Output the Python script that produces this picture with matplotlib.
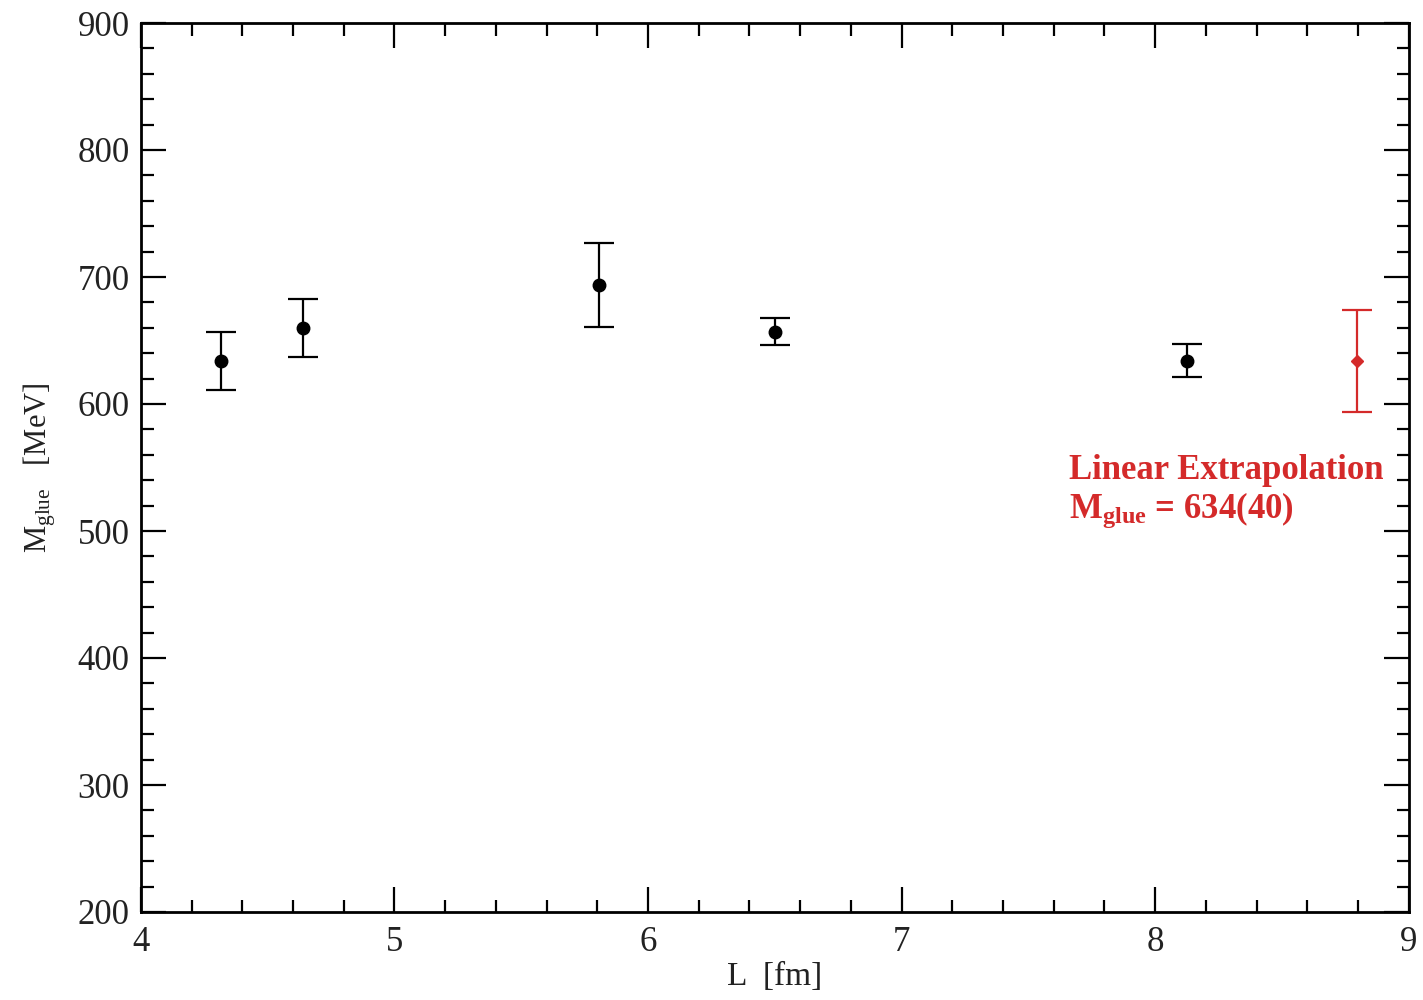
import numpy as np
import matplotlib
matplotlib.use("Agg")
import matplotlib.pyplot as plt
from matplotlib.ticker import MultipleLocator

plt.rcParams['font.family'] = ['Liberation Serif', 'DejaVu Serif']
plt.rcParams['mathtext.fontset'] = 'custom'
plt.rcParams['mathtext.rm'] = 'Liberation Serif'
plt.rcParams['mathtext.it'] = 'Liberation Serif:italic'
plt.rcParams['mathtext.bf'] = 'Liberation Serif:bold'

# lattice data
L_fm = [4.315, 4.64, 5.805, 6.5, 8.125]
M_glue = [634, 660, 694, 657, 634]
M_err = [23, 23, 33, 10.5, 13]

# linear extrapolation
L_ext = [8.795]
M_ext = [634]
M_ext_err = [40]

red = '#d42a2a'

fig = plt.figure(figsize=(14.23, 10), dpi=100)
ax = fig.add_axes([0.099, 0.088, 0.891, 0.889])

ax.errorbar(L_fm, M_glue, yerr=M_err, fmt='o', color='black', ms=9,
            capsize=11, capthick=1.6, elinewidth=1.6)
ax.errorbar(L_ext, M_ext, yerr=M_ext_err, fmt='D', color=red, ms=6,
            capsize=11, capthick=1.6, elinewidth=1.6)

ax.text(7.66, 548, 'Linear Extrapolation', color=red, fontsize=25,
        fontweight='bold', va='center', ha='left')
ax.text(7.66, 516, r'M$_{\mathbf{glue}}$ = 634(40)', color=red, fontsize=25,
        fontweight='bold', va='center', ha='left')

ax.set_xlim(4, 9)
ax.set_ylim(200, 900)
ax.xaxis.set_major_locator(MultipleLocator(1))
ax.xaxis.set_minor_locator(MultipleLocator(0.2))
ax.yaxis.set_major_locator(MultipleLocator(100))
ax.yaxis.set_minor_locator(MultipleLocator(20))

ax.tick_params(which='both', direction='in', top=True, right=True,
               labelsize=25, width=1.6, colors='black', labelcolor='#222222')
ax.tick_params(which='major', length=18)
ax.tick_params(which='minor', length=9)
ax.tick_params(axis='x', which='major', pad=10)
ax.tick_params(axis='y', which='major', pad=8)
for s in ax.spines.values():
    s.set_linewidth(2)

ax.set_xlabel('L  [fm]', fontsize=24, labelpad=2, color='#222222')
ax.set_ylabel(r'M$_{\rm glue}$   [MeV]', fontsize=22, labelpad=14, color='#222222')

fig.savefig('out.png', dpi=100)
